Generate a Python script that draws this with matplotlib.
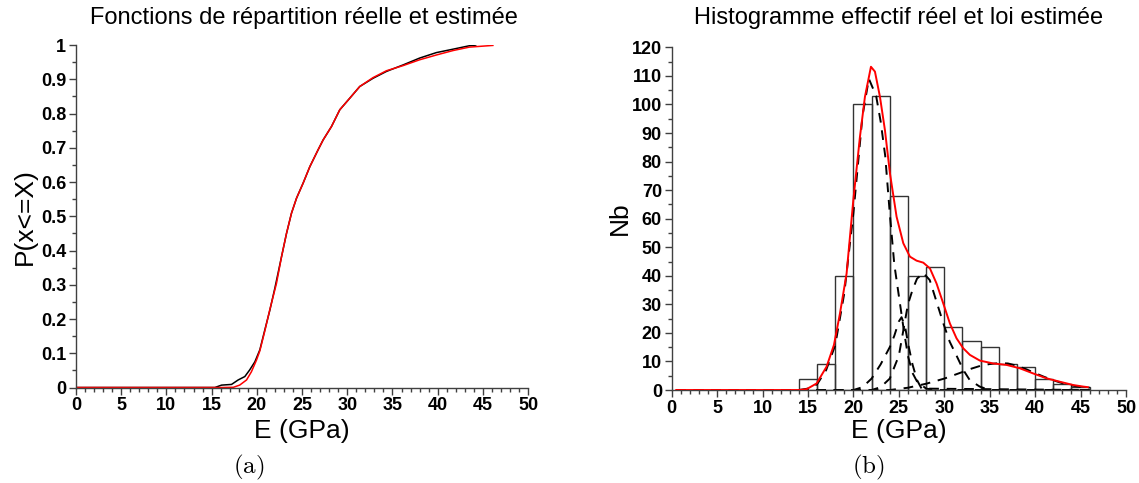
import numpy as np
import matplotlib
matplotlib.use('Agg')
import matplotlib.pyplot as plt
from matplotlib.ticker import MultipleLocator, FuncFormatter

plt.rcParams['font.family'] = ['Liberation Sans', 'DejaVu Sans']
plt.rcParams['mathtext.fontset'] = 'cm'

# ---- (a) cumulative distributions
cdf_real_x = [0, 15.36, 16.1, 17.2, 17.93, 18.67, 19.2, 19.78, 20.33, 20.88, 21.44, 21.99,
              22.73, 23.28, 23.83, 24.39, 25.12, 25.86, 26.77, 27.33, 28.25, 29.17, 30.28,
              31.38, 32.85, 34.33, 36.17, 38.0, 39.85, 41.7, 43.5, 44.2]
cdf_real_p = [0, 0, 0.007, 0.009, 0.022, 0.032, 0.051, 0.075, 0.11, 0.168, 0.226, 0.29,
              0.382, 0.45, 0.509, 0.553, 0.597, 0.645, 0.694, 0.723, 0.762, 0.811, 0.845,
              0.879, 0.903, 0.923, 0.942, 0.962, 0.978, 0.988, 0.998, 1.0]

cdf_est_x = [0, 16.1, 17.4, 18.1, 18.86, 19.4, 19.96, 20.33, 20.88, 21.44, 22.17, 22.73,
             23.28, 23.83, 24.39, 25.12, 25.86, 26.77, 27.33, 28.25, 29.17, 30.28, 31.38,
             32.85, 34.33, 36.17, 38.0, 39.85, 41.7, 43.5, 46.1]
cdf_est_p = [0, 0, 0.0006, 0.007, 0.022, 0.046, 0.08, 0.107, 0.165, 0.228, 0.304, 0.382,
             0.45, 0.509, 0.553, 0.597, 0.645, 0.694, 0.723, 0.762, 0.811, 0.845, 0.879,
             0.905, 0.925, 0.94, 0.957, 0.971, 0.984, 0.994, 0.999]

# ---- (b) histogram counts (bin edges 14..46, width 2)
bin_left = [14, 16, 18, 20, 22, 24, 26, 28, 30, 32, 34, 36, 38, 40, 42, 44]
counts = [4, 9, 40, 100, 103, 68, 40, 43, 22, 17, 15, 9, 8, 4, 2, 1]

# estimated mixture density (red) and its components (dashed)
mix_x = [0.5, 14.0, 14.85, 15.95, 17.05, 17.86, 18.52, 19.25, 19.99, 20.72, 21.27, 21.93,
         22.37, 22.92, 23.47, 24.02, 24.75, 25.49, 26.22, 26.95, 27.69, 28.42, 29.15, 29.89,
         30.62, 31.35, 32.09, 32.82, 33.92, 35.39, 36.85, 38.32, 39.79, 41.25, 42.72, 44.19,
         45.29, 45.8]
mix_y = [0, 0, 0.3, 2.3, 8.2, 15.8, 26.8, 40.8, 66.5, 88.7, 102.7, 113.2, 111.5, 102.7,
         91, 75.9, 60.7, 51.4, 46.7, 45.3, 44.6, 42.6, 37.3, 30.3, 23.3, 18.1, 14.6, 12.3,
         10.3, 9.3, 8.8, 7.6, 5.8, 4.1, 2.9, 1.75, 1.2, 1.0]

compA_x = [0.5, 14, 15, 16, 17, 18, 19, 20, 21, 21.7, 22.5, 23, 23.5, 24, 24.5, 25, 25.5,
           26, 26.5, 27, 28, 29, 46]
compA_y = [0, 0, 0.5, 2, 7, 15.7, 34, 62, 96, 109, 103, 94, 82, 62, 44, 33, 22, 12, 6,
           3, 0.5, 0, 0]
compB_x = [0.5, 20, 21, 22, 23, 24, 24.5, 25, 25.3, 25.7, 26, 26.5, 27, 27.5, 46]
compB_y = [0, 0, 1, 4, 9, 15, 19, 24, 25.5, 22, 16.5, 9, 3.5, 0.5, 0]
compC_x = [0.5, 22, 23, 24, 25, 26, 26.5, 27, 27.7, 28.4, 29.2, 29.9, 30.6, 31.4, 32.1,
           32.8, 33.9, 35, 46]
compC_y = [0, 0, 1, 4, 12, 30, 35, 39, 41, 38.5, 30.4, 23.3, 16.9, 11.7, 7, 3.5, 1.2, 0, 0]
compD_x = [0.5, 24, 26, 28, 30, 32, 33, 34, 35, 36, 37, 38, 39, 40, 41, 42, 43, 44, 45, 46]
compD_y = [0, 0, 0.8, 2.2, 4, 6.3, 7.5, 8.5, 9.1, 9.4, 9.3, 8.5, 7.3, 5.9, 4.6, 3.4, 2.4,
           1.6, 1.1, 0.8]

fig = plt.figure(figsize=(11.39, 4.83), dpi=100)
ax1 = fig.add_axes([0.0667, 0.1977, 0.397, 0.709])
ax2 = fig.add_axes([0.5897, 0.1925, 0.3989, 0.7095])


def style(ax, label_y):
    for s in ['top', 'right']:
        ax.spines[s].set_visible(False)
    for s in ['left', 'bottom']:
        ax.spines[s].set_color('0.25')
        ax.spines[s].set_linewidth(1.0)
    ax.tick_params(which='major', direction='out', length=5, width=1, color='0.25', pad=2)
    ax.tick_params(which='minor', direction='out', length=3, width=1, color='0.25')
    ax.set_xlim(0, 50)
    ax.xaxis.set_major_locator(MultipleLocator(5))
    ax.xaxis.set_minor_locator(MultipleLocator(1))
    for lab in ax.get_xticklabels() + ax.get_yticklabels():
        lab.set_fontsize(13)
        lab.set_fontweight('bold')
    ax.set_xlabel('E (GPa)', fontsize=19, va='center')
    ax.xaxis.set_label_coords(0.5, label_y)


# (a)
ax1.plot(cdf_real_x, cdf_real_p, color='black', lw=1.1)
ax1.plot(cdf_est_x, cdf_est_p, color='red', lw=1.1)
ax1.set_ylim(0, 1)
ax1.yaxis.set_major_locator(MultipleLocator(0.1))
ax1.yaxis.set_minor_locator(MultipleLocator(0.05))
ax1.yaxis.set_major_formatter(FuncFormatter(lambda v, p: '%g' % round(v, 2)))
style(ax1, -0.127)
ax1.set_ylabel('P(x<=X)', fontsize=19, va='center')
ax1.yaxis.set_label_coords(-0.113, 0.5)

# (b)
ax2.bar(bin_left, counts, width=2, align='edge', facecolor='none',
        edgecolor='0.2', linewidth=1.0, zorder=1)
for cx, cy in [(compA_x, compA_y), (compB_x, compB_y), (compC_x, compC_y), (compD_x, compD_y)]:
    ax2.plot(cx, cy, color='black', lw=1.4, ls=(0, (5, 4)), zorder=2)
ax2.plot(mix_x, mix_y, color='red', lw=1.4, zorder=3)
ax2.set_ylim(0, 120)
ax2.yaxis.set_major_locator(MultipleLocator(10))
ax2.yaxis.set_minor_locator(MultipleLocator(5))
style(ax2, -0.12)
ax2.set_ylabel('Nb', fontsize=19, va='center')
ax2.yaxis.set_label_coords(-0.113, 0.5)

fig.text(0.267, 0.963, 'Fonctions de répartition réelle et estimée', ha='center', va='center', fontsize=17)
fig.text(0.789, 0.963, 'Histogramme effectif réel et loi estimée', ha='center', va='center', fontsize=17)
fig.text(0.218, 0.033, r'$\mathrm{(a)}$', ha='center', va='center', fontsize=18)
fig.text(0.762, 0.033, r'$\mathrm{(b)}$', ha='center', va='center', fontsize=18)

fig.savefig('out.png', dpi=100)
